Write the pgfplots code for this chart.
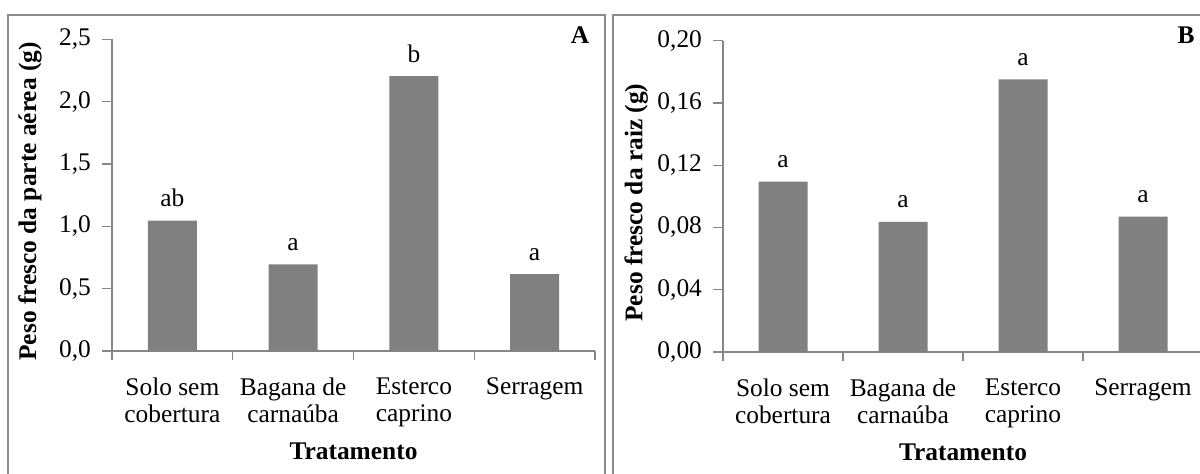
\documentclass[border=0pt]{standalone}
\usepackage{fontspec}
\setmainfont{Liberation Serif}
\usepackage{pgfplots}
\pgfplotsset{compat=1.18}
\usepackage{pgfplotstable}
\definecolor{axgray}{HTML}{868686}
\definecolor{bargray}{HTML}{808080}
\definecolor{framegray}{HTML}{8C8C8C}

\pgfplotstableread{
x y lab
0 1.045 ab
1 0.695 a
2 2.205 b
3 0.617 a
}\dataA
\pgfplotstableread{
x y lab
0 0.1095 a
1 0.0836 a
2 0.1752 a
3 0.0869 a
}\dataB

\newcommand{\chartfont}{\fontsize{12.7}{13.6}\selectfont}

\pgfplotsset{
  panel/.style={
    scale only axis, anchor=south west,
    axis x line*=bottom, axis y line*=left,
    axis line style={axgray, line width=0.6pt, -},
    tick align=outside, major tick length=5pt, minor tick length=4.5pt,
    every tick/.style={axgray, line width=0.6pt},
    major x tick style={draw=none},
    xmin=-0.5, xmax=3.5, ymin=0,
    xtick={0,1,2,3},
    minor xtick={-0.5,0.5,1.5,2.5,3.5},
    xticklabels={Solo sem\\cobertura, Bagana de\\carnaúba, Esterco\\caprino, Serragem},
    every tick label/.append style={font=\chartfont, text=black},
    xticklabel style={align=center, anchor=north, yshift=-5pt},
    yticklabel style={xshift=-2pt},
    xlabel={Tratamento},
    every axis x label/.style={at={(axis description cs:0.5,0)}, anchor=base, yshift=-54pt, font=\chartfont\bfseries},
    ybar, bar width=24.5pt,
    nodes near coords, point meta=explicit symbolic,
    every node near coord/.append style={anchor=base, yshift=7pt, font=\chartfont, text=black},
    clip=false,
    /pgf/number format/.cd, use comma, fixed, fixed zerofill, assume math mode=true,
  },
}

\begin{document}
\begin{tikzpicture}
\useasboundingbox (0pt,0pt) rectangle (600pt,236.5pt);
\draw[framegray, line width=0.65pt] (4pt,-10pt) rectangle (302.5pt,229pt);
\draw[framegray, line width=0.65pt] (306.5pt,-10pt) rectangle (610pt,229pt);

\begin{axis}[panel,
  at={(56pt,61pt)}, width=241.5pt, height=155.85pt,
  ymax=2.5, ytick={0,0.5,1,1.5,2,2.5},
  /pgf/number format/precision=1,
  ylabel={Peso fresco da parte aérea (g)},
  every axis y label/.style={at={(axis description cs:-0.170,0.48)}, rotate=90, anchor=center, font=\chartfont\bfseries},
]
\addplot[fill=bargray, draw=none] table[x=x, y=y, meta=lab] {\dataA};
\end{axis}
\node[font=\chartfont\bfseries] at (290pt,219pt) {A};

\begin{axis}[panel,
  at={(361.5pt,60.5pt)}, width=240pt, height=155.65pt,
  ymax=0.20, ytick={0,0.04,0.08,0.12,0.16,0.20},
  /pgf/number format/precision=2,
  ylabel={Peso fresco da raiz (g)},
  every axis y label/.style={at={(axis description cs:-0.181,0.48)}, rotate=90, anchor=center, font=\chartfont\bfseries},
]
\addplot[fill=bargray, draw=none] table[x=x, y=y, meta=lab] {\dataB};
\end{axis}
\node[font=\chartfont\bfseries] at (593pt,219pt) {B};
\end{tikzpicture}
\end{document}
